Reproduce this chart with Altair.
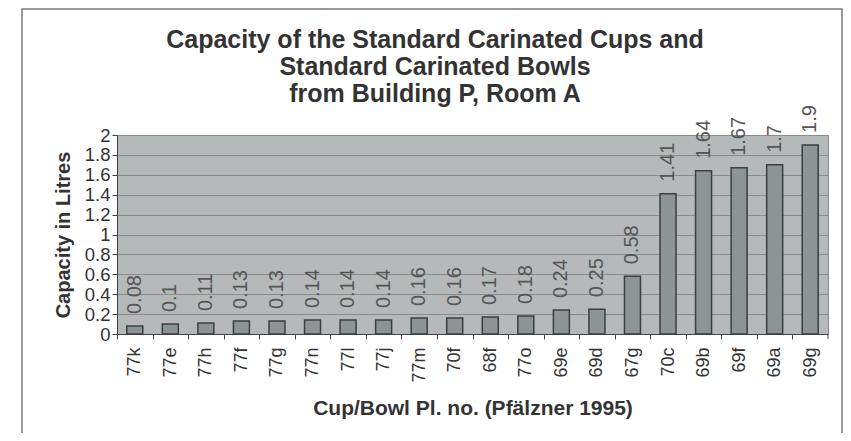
import altair as alt
import pandas as pd

cups = ["77k", "77e", "77h", "77f", "77g", "77n", "77l", "77j", "77m", "70f",
        "68f", "77o", "69e", "69d", "67g", "70c", "69b", "69f", "69a", "69g"]
capacity = [0.08, 0.1, 0.11, 0.13, 0.13, 0.14, 0.14, 0.14, 0.16, 0.16,
            0.17, 0.18, 0.24, 0.25, 0.58, 1.41, 1.64, 1.67, 1.7, 1.9]
y_ticks = [0, 0.2, 0.4, 0.6, 0.8, 1, 1.2, 1.4, 1.6, 1.8, 2]
title_lines = ["Capacity of the Standard Carinated Cups and",
               "Standard Carinated Bowls",
               "from Building P, Room A"]
x_title = "Cup/Bowl Pl. no. (Pfälzner 1995)"
y_title = "Capacity in Litres"

df = pd.DataFrame({"cup": cups, "cap": capacity})

W, H = 711, 199
STEP = W / len(cups)
FONT = "Liberation Sans"

x = alt.X("cup:N", sort=cups, title=x_title,
          scale=alt.Scale(paddingInner=0.55, paddingOuter=0.275),
          axis=alt.Axis(labelAngle=270, labelFontSize=18, labelColor="#333",
                        labelFont=FONT, labelPadding=8,
                        tickOffset=-STEP / 2, labelOffset=STEP / 2,
                        tickSize=5, tickColor="#444", domainColor="#444",
                        titleFont=FONT, titleFontSize=21, titleFontWeight="bold",
                        titleColor="#333", titlePadding=15, grid=False))
y = alt.Y("cap:Q", title=y_title,
          scale=alt.Scale(domain=[0, 2], nice=False),
          axis=alt.Axis(values=y_ticks, tickCount=len(y_ticks) + 2,
                        labelExpr="format(datum.value, '~g')",
                        labelOverlap=False, labelFontSize=18.5, labelColor="#333",
                        labelFont=FONT, labelPadding=2, tickSize=5,
                        tickColor="#444", domainColor="#444", grid=True,
                        gridColor="#878c8c", gridWidth=1, titleFont=FONT,
                        titleFontSize=20, titleFontWeight="bold",
                        titleColor="#333", titlePadding=11))

bars = alt.Chart(df).mark_bar(color="#8c9494", stroke="#3a3f3f",
                              strokeWidth=1.5).encode(x=x, y=y)

labels = alt.Chart(df).mark_text(angle=270, align="left", baseline="middle",
                                 dx=12, fontSize=20, font=FONT, color="#555",
                                 clip=False).encode(
    x=alt.X("cup:N", sort=cups),
    y="cap:Q",
    text=alt.Text("cap:Q", format="~g"))

one = pd.DataFrame({"k": [0]})
end_tick = alt.Chart(one).mark_rule(color="#444").encode(
    x=alt.value(W), y=alt.value(H), y2=alt.value(H + 5))

frame = alt.Chart(one).mark_rect(fill=None, stroke="#7a7a7a", strokeWidth=1.5,
                                 clip=False).encode(
    x=alt.value(-95), x2=alt.value(725), y=alt.value(-126), y2=alt.value(320))

TITLE_X = 318
title_baselines = [-87, -60, -33]
title_marks = [
    alt.Chart(one).mark_text(align="center", baseline="alphabetic",
                             fontSize=25, font=FONT, fontWeight="bold",
                             color="#333").encode(
        x=alt.value(TITLE_X), y=alt.value(yb), text=alt.value(line))
    for line, yb in zip(title_lines, title_baselines)
]

chart = alt.layer(frame, bars, labels, end_tick, *title_marks).properties(
    width=W, height=H,
    autosize=alt.AutoSizeParams(type="none"),
    padding={"left": 109, "top": 127, "right": 15, "bottom": 99},
    background="#ffffff",
).configure_view(fill="#b5b9b9", stroke="#888")

chart.save("out.html", embed_options={"renderer": "svg", "actions": False})
